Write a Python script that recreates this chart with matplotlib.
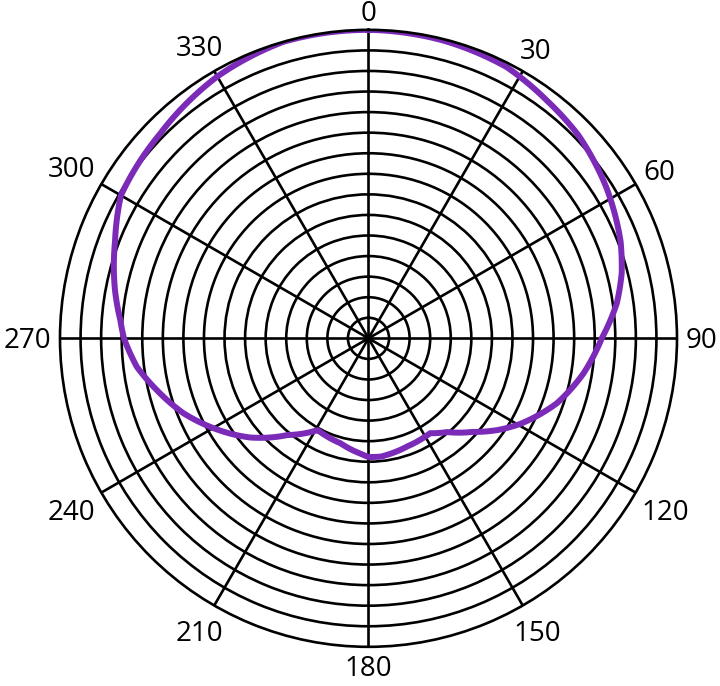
import numpy as np
from matplotlib import pyplot as plt, rcParams
from matplotlib.transforms import offset_copy

rcParams["font.family"] = ["Open Sans", "DejaVu Sans"]

# pattern: angle (deg, clockwise from top) and radius (ring units)
angles = [0, 14, 27, 37, 46, 57.5, 69, 75.6, 82, 90, 99.4, 109, 119.5, 125, 132,
          140, 147, 160, 174, 180, 184, 195, 209, 220, 230, 240.8, 248, 256.3,
          263, 270, 274.2, 280.8, 291, 300, 314.5, 330, 344]
radius = [15.0, 14.93, 14.8, 14.45, 14.2, 13.7, 13.13, 12.71, 12.19, 11.34, 10.58,
          9.69, 8.46, 7.75, 6.8, 5.95, 5.5, 5.58, 5.78, 5.77, 5.62, 5.28, 5.1,
          6.14, 7.5, 8.82, 9.71, 10.6, 11.35, 11.89, 12.1, 12.55, 13.2, 13.9,
          14.2, 14.7, 15.0]

ring_values = list(range(1, 15))
spoke_angles = list(range(0, 360, 30))
spoke_labels = [str(a) for a in spoke_angles]
rmax = 15

fig = plt.figure(figsize=(7.2, 6.86), dpi=100)
ax = fig.add_axes([0.0833, 0.0571, 0.857, 0.8994], projection="polar")
ax.set_theta_zero_location("N")
ax.set_theta_direction(-1)
ax.set_rlim(0, rmax)

ax.set_rgrids(ring_values, labels=[""] * len(ring_values))
ax.set_thetagrids(spoke_angles, labels=[""] * len(spoke_angles))
ax.grid(True, color="black", linewidth=1.9)
ax.spines["polar"].set_linewidth(1.9)
ax.spines["polar"].set_color("black")

# angle labels just outside the rim, pushed out by half the text size
fs = 20
digit_h = 0.714 * fs
gap = 6.5
for a, lab in zip(spoke_angles, spoke_labels):
    t = np.deg2rad(a)
    s, c = np.sin(t), np.cos(t)
    w = len(lab) * 0.57 * fs
    d = gap + 0.5 * abs(w * s) + 0.5 * abs(digit_h * c)
    tr = offset_copy(ax.transData, fig=fig, x=d * s, y=d * c - digit_h / 2, units="points")
    ax.text(t, rmax, lab, transform=tr, fontsize=fs, ha="center", va="baseline",
            clip_on=False)

th = np.deg2rad(angles + [360])
rr = radius + [radius[0]]
line, = ax.plot(th, rr, color="#7b2bb8", linewidth=4.3, solid_joinstyle="round")
line.get_path()._interpolation_steps = 40

fig.savefig("out.png", dpi=100)
